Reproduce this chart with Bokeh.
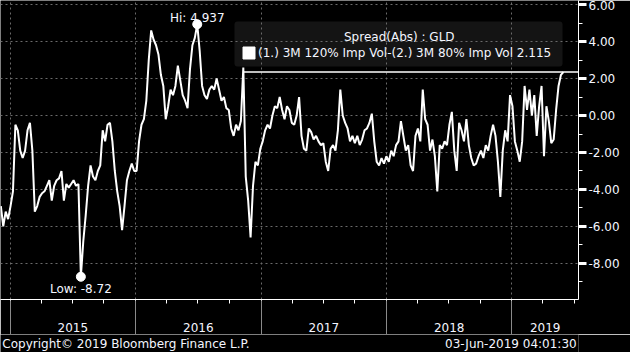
import numpy as np
import pandas as pd
from datetime import datetime
from bokeh.plotting import figure
from bokeh.layouts import column
from bokeh.models import (Range1d, LinearAxis, DatetimeAxis, FixedTicker, NumeralTickFormatter,
                          DatetimeTickFormatter, Legend, LegendItem, BoxAnnotation)
from bokeh.embed import file_html
from bokeh.resources import INLINE

# ---------------- data ----------------
start_date = "2014-12-05"
end_date = "2019-05-31"
spread = [
    -4.9, -6.0, -5.2, -5.6, -4.9, -4.1, -0.5, -0.8, -1.9, -2.3,
    -1.9, -0.8, -0.4, -1.9, -5.2, -4.9, -4.4, -4.2, -4.1, -3.8,
    -3.5, -4.6, -3.8, -3.5, -3.4, -3.0, -4.6, -3.7, -3.9, -3.7,
    -3.5, -3.8, -3.7, -8.72, -6.8, -5.4, -3.8, -2.7, -3.3, -3.5,
    -3.0, -2.7, -0.8, -1.4, -0.5, -0.4, -1.4, -3.0, -4.1, -4.9,
    -6.2, -4.9, -3.5, -3.0, -2.6, -3.0, -3.0, -1.4, -0.5, -0.2,
    0.8, 3.0, 4.6, 4.1, 3.8, 3.3, 2.2, 1.6, -0.2, 0.5,
    1.4, 1.1, 1.6, 2.7, 1.9, 1.1, 0.8, 0.4, 2.5, 3.8,
    4.2, 4.937, 3.5, 1.6, 1.1, 0.9, 1.4, 1.6, 1.4, 2.0,
    1.4, 0.8, 1.0, 0.4, 0.3, -0.7, -1.1, -0.5, -0.8, -0.3,
    2.6, -3.3, -4.6, -6.6, -3.8, -2.5, -2.7, -1.8, -1.4, -0.8,
    -0.5, -0.7, 0.0, 0.5, 0.4, 1.0, 0.3, -0.2, 0.5, 0.3,
    -0.4, -0.5, 0.0, 1.0, -1.1, -1.8, -1.9, -0.7, -0.9, -1.3,
    -1.1, -1.4, -1.6, -1.5, -2.5, -3.0, -1.8, -1.6, -1.9, -0.8,
    1.4, 0.0, -0.4, -0.7, -1.4, -1.1, -1.5, -1.1, -1.6, -1.3,
    -0.8, -0.7, -0.4, 0.1, -1.4, -2.5, -2.7, -2.3, -2.6, -2.2,
    -2.5, -1.9, -2.2, -1.6, -1.4, -0.3, -1.1, -1.9, -1.6, -2.7,
    -3.0, -1.1, -0.7, -1.4, 1.4, -0.2, -0.5, -1.9, -1.3, -2.2,
    -4.1, -1.6, -1.8, -1.4, -1.6, -0.5, 0.2, -1.9, -3.0, -0.4,
    -0.8, -1.4, -0.2, -1.6, -2.3, -2.7, -2.6, -2.2, -1.9, -2.3,
    -1.6, -1.9, -1.1, -0.5, -1.1, -2.5, -4.4, -1.9, -0.8, -1.4,
    1.1, 0.5, -1.4, -1.9, -2.5, -1.4, 1.6, 0.3, 1.4, 0.0,
    1.1, -1.1, 0.5, 1.6, -2.2, 0.5, -0.3, -1.5, -1.3, 0.3,
    1.6, 2.2, 2.35,
]
years = [2015, 2016, 2017, 2018, 2019]
y_major = [-8, -6, -4, -2, 0, 2, 4, 6]
y_minor = [-10, -9, -7, -5, -3, -1, 1, 3, 5]
legend_title = "Spread(Abs) : GLD"
legend_label = "(1.) 3M 120% Imp Vol-(2.) 3M 80% Imp Vol 2.115"
copyright_text = "Copyright\u00a9 2019 Bloomberg Finance L.P."
stamp_text = "03-Jun-2019 04:01:30"

dates = pd.date_range(start_date, end_date, periods=len(spread))
vals = np.array(spread)
x_start = datetime(2014, 12, 4)
x_end = datetime(2019, 7, 14)


def ms(d):
    return pd.Timestamp(d).value // 10**6


year_starts = [ms(datetime(y, 1, 1)) for y in years]
quarters = [ms(datetime(y, m, 1)) for y in years for m in (1, 4, 7, 10)]
quarters = [q for q in quarters if q <= ms(x_end)]
label_pos = []
for y in years:
    a = ms(datetime(y, 1, 1))
    b = ms(datetime(y + 1, 1, 1)) if y < years[-1] else ms(x_end)
    label_pos.append((a + b) // 2)

FONT = "DejaVu Sans"
FS = "12px"
WHITE = "#f4f6ff"

p = figure(width=630, height=334, output_backend="svg", toolbar_location=None,
           x_axis_type="datetime", x_axis_location=None, y_axis_location=None,
           x_range=Range1d(x_start, x_end), y_range=Range1d(-9.95, 6.22),
           min_border_left=0, min_border_top=0, min_border_right=52, min_border_bottom=35)
p.background_fill_color = "black"
p.border_fill_color = "black"
p.outline_line_color = None

# legend box (drawn beneath the grid)
p.add_layout(BoxAnnotation(left=234, right=562, bottom=233, top=278,
                           left_units="screen", right_units="screen",
                           bottom_units="screen", top_units="screen",
                           fill_color="#141414", fill_alpha=1, line_color=None,
                           border_radius=3, level="image"))

# grids
p.xgrid.ticker = FixedTicker(ticks=year_starts)
p.ygrid.ticker = FixedTicker(ticks=y_major)
for g in (p.xgrid, p.ygrid):
    g.grid_line_color = "#6a6a6a"
    g.grid_line_dash = "2 3"
    g.grid_line_width = 1

# right axis
ya = LinearAxis(ticker=FixedTicker(ticks=y_major, minor_ticks=y_minor),
                formatter=NumeralTickFormatter(format="0.00"))
ya.axis_line_color = "white"
ya.major_tick_in = 0
ya.major_tick_out = 8
ya.major_tick_line_width = 3
ya.major_tick_line_color = "white"
ya.minor_tick_in = 0
ya.minor_tick_out = 4
ya.minor_tick_line_color = "white"
ya.major_label_standoff = 2
ya.major_label_text_font = FONT
ya.major_label_text_font_size = FS
ya.major_label_text_color = WHITE
p.add_layout(ya, "right")

# bottom axis: quarter ticks and year labels
fmt = DatetimeTickFormatter(milliseconds="%Y", seconds="%Y", minsec="%Y", minutes="%Y",
                            hourmin="%Y", hours="%Y", days="%Y", months="%Y", years="%Y")
xa = DatetimeAxis(ticker=FixedTicker(ticks=label_pos, minor_ticks=quarters), formatter=fmt)
xa.axis_line_color = "white"
xa.major_tick_in = 0
xa.major_tick_out = 0
xa.minor_tick_in = 0
xa.minor_tick_out = 4
xa.minor_tick_line_color = "white"
xa.major_label_standoff = 19
xa.major_label_text_font = FONT
xa.major_label_text_font_size = FS
xa.major_label_text_color = WHITE
p.add_layout(xa, "below")

# year separators (minor ticks only, drawn upward)
xb = DatetimeAxis(ticker=FixedTicker(ticks=[], minor_ticks=year_starts), formatter=fmt)
xb.axis_line_color = None
xb.major_tick_in = 0
xb.major_tick_out = 0
xb.minor_tick_in = 34
xb.minor_tick_out = 0
xb.minor_tick_line_color = "#8a8a8a"
xb.major_label_standoff = 0
p.add_layout(xb, "below")

# series
p.line(dates, vals, line_color="white", line_width=2)

# last value line
last = vals[-1]
p.ray(x=[dates[100]], y=[last], length=0, angle=0, line_color="white", line_width=1.5)

# hi / low markers
hi_i = int(np.argmax(vals))
lo_i = int(np.argmin(vals))
p.scatter([dates[hi_i], dates[lo_i]], [vals[hi_i], vals[lo_i]], size=9,
          fill_color="white", line_color="white")
p.text([dates[hi_i]], [vals[hi_i]], text=[f"Hi: {vals[hi_i]:.3f}"], text_align="center",
       text_baseline="bottom", y_offset=1, text_color=WHITE, text_font_size=FS,
       text_font={"value": FONT})
p.text([dates[lo_i]], [vals[lo_i]], text=[f"Low: {vals[lo_i]:.2f}"], text_align="center",
       text_baseline="top", y_offset=5, text_color=WHITE, text_font_size=FS,
       text_font={"value": FONT})

# legend
sq = p.rect(x=[dates[-1]], y=[last], width=0, height=0, fill_color="white",
            line_color="white", visible=False)
legend = Legend(items=[LegendItem(label=legend_label, renderers=[sq])],
                title="\u00a0" * 27 + legend_title, location=(241, 239))
legend.background_fill_alpha = 0
legend.border_line_color = None
legend.label_text_color = WHITE
legend.label_text_font = FONT
legend.label_text_font_size = FS
legend.title_text_color = WHITE
legend.title_text_font = FONT
legend.title_text_font_size = FS
legend.title_text_font_style = "normal"
legend.glyph_width = 15
legend.glyph_height = 15
legend.label_height = 14
legend.label_standoff = 2
legend.padding = 0
legend.margin = 0
legend.spacing = 0
legend.title_standoff = 1
p.add_layout(legend)

# footer strip
f = figure(width=630, height=18, output_backend="svg", toolbar_location=None,
           x_range=Range1d(0, 630), y_range=Range1d(0, 18),
           x_axis_location=None, y_axis_location=None, min_border=0)
f.grid.visible = False
f.background_fill_color = "black"
f.border_fill_color = "black"
f.outline_line_color = None
f.text(x=[2], y=[9], text=[copyright_text], text_baseline="middle", text_color=WHITE,
       text_font_size=FS, text_font={"value": FONT})
f.text(x=[628], y=[9], text=[stamp_text], text_baseline="middle", text_align="right",
       text_color=WHITE, text_font_size=FS, text_font={"value": FONT})

layout = column(p, f, spacing=0)
open("out.html", "w").write(file_html(layout, INLINE))
